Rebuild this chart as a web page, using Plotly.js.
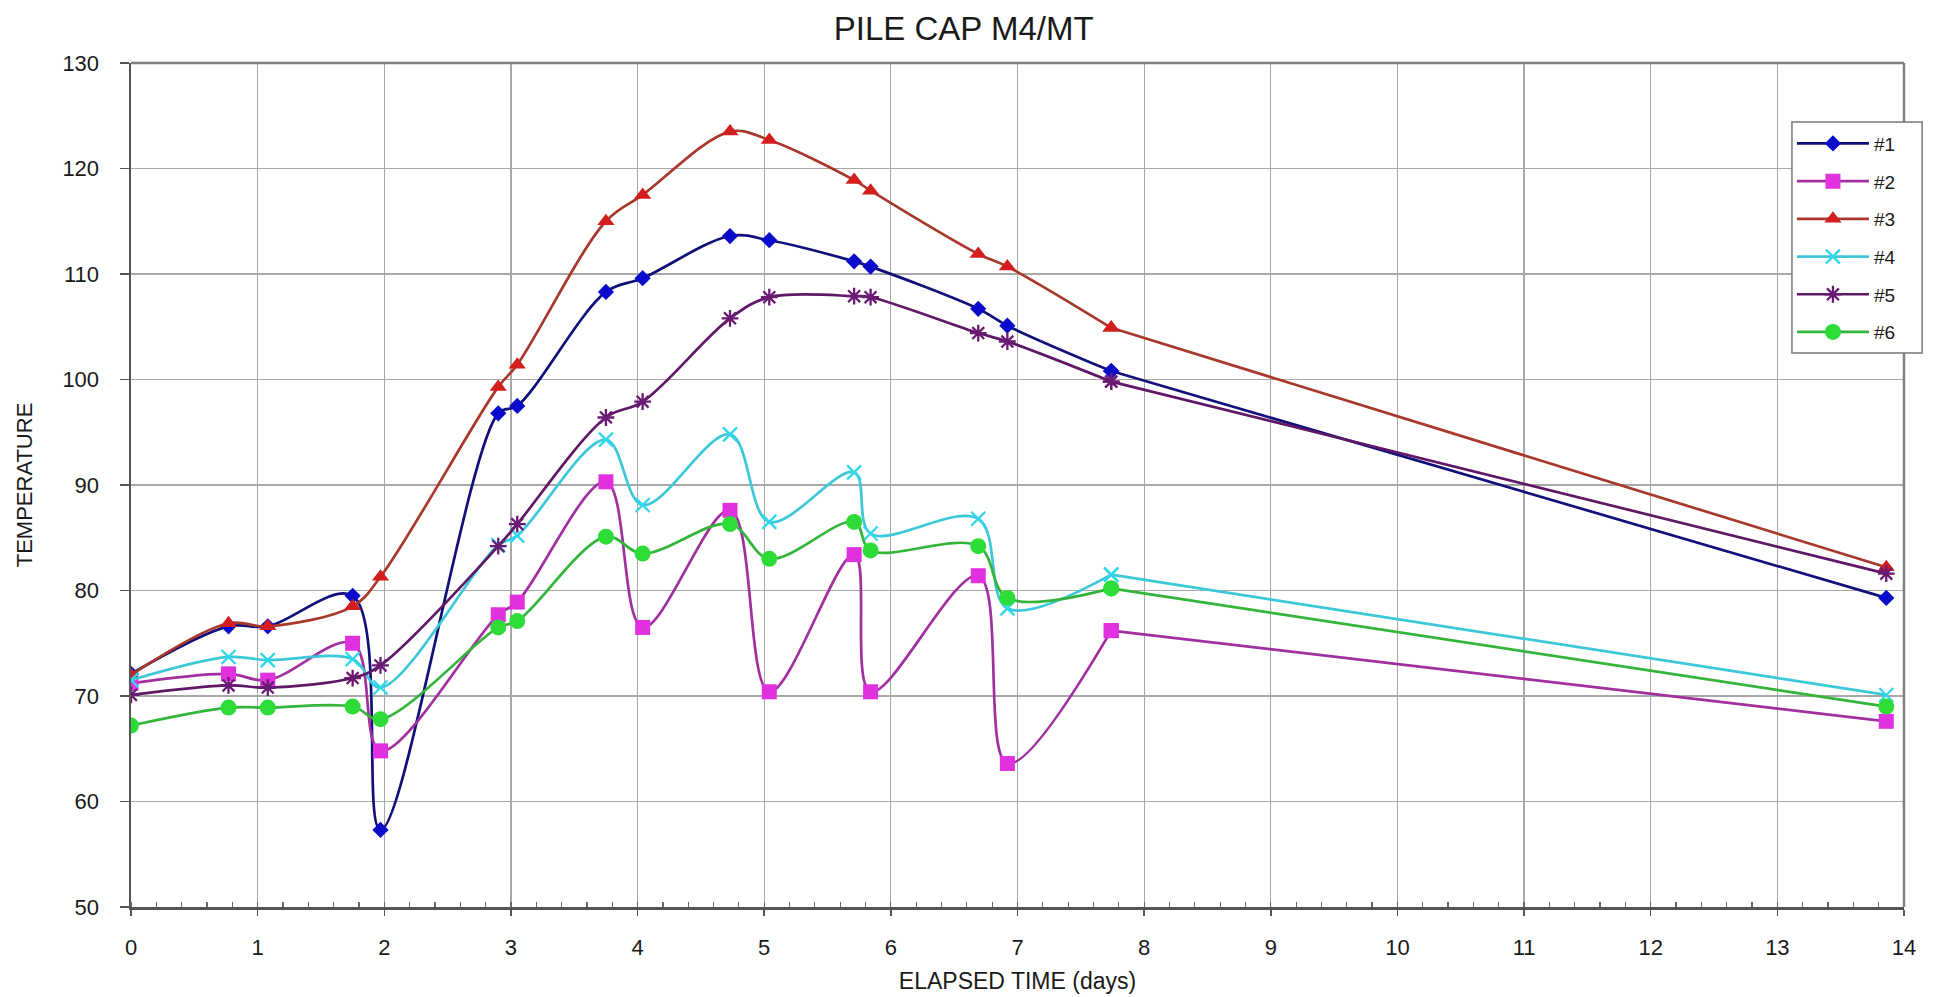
<!DOCTYPE html>
<html>
<head>
<meta charset="utf-8">
<script src="https://cdn.plot.ly/plotly-3.0.1.min.js"></script>
<style>
html,body{margin:0;padding:0;background:#fff;}
#chart{width:1937px;height:997px;}
</style>
</head>
<body>
<div id="chart"></div>
<script>
// Elapsed time (days)
const days = [0, 0.77, 1.08, 1.75, 1.97, 2.90, 3.05, 3.75, 4.04, 4.73, 5.04, 5.71, 5.84, 6.69, 6.92, 7.74, 13.86];
// Temperatures per sensor
const s1 = [72.1, 76.6, 76.6, 79.5, 57.3, 96.8, 97.5, 108.3, 109.6, 113.6, 113.2, 111.2, 110.7, 106.7, 105.1, 100.8, 79.3];
const s2 = [71.2, 72.1, 71.5, 75.0, 64.8, 77.7, 78.9, 90.3, 76.5, 87.6, 70.4, 83.4, 70.4, 81.4, 63.6, 76.2, 67.6];
const s3 = [72.0, 76.9, 76.6, 78.5, 81.3, 99.3, 101.4, 115.0, 117.5, 123.5, 122.7, 118.9, 117.9, 111.9, 110.7, 104.9, 82.2];
const s4 = [71.5, 73.7, 73.4, 73.5, 70.8, 84.3, 85.2, 94.3, 88.1, 94.8, 86.5, 91.2, 85.4, 86.8, 78.3, 81.5, 70.1];
const s5 = [70.1, 71.0, 70.8, 71.7, 72.9, 84.2, 86.3, 96.4, 97.9, 105.8, 107.8, 107.9, 107.8, 104.4, 103.6, 99.8, 81.6];
const s6 = [67.2, 68.9, 68.9, 69.0, 67.8, 76.5, 77.1, 85.1, 83.5, 86.3, 83.0, 86.5, 83.8, 84.2, 79.3, 80.2, 69.0];
const names = ['#1', '#2', '#3', '#4', '#5', '#6'];
const xTicks = [0,1,2,3,4,5,6,7,8,9,10,11,12,13,14];
const yTicks = [50,60,70,80,90,100,110,120,130];

const series = [s1, s2, s3, s4, s5, s6];
const styles = [
  {line:'#10107a', mc:'#0a0acc', sym:'diamond', size:12.5, open:false},
  {line:'#a0309e', mc:'#e030e0', sym:'square', size:15, open:false},
  {line:'#a8382c', mc:'#d41e1e', sym:'triangle-up', size:15, open:false},
  {line:'#3cc8d8', mc:'#30d8ec', sym:'x-thin-open', size:14, open:true},
  {line:'#5e1866', mc:'#6a1a72', sym:'asterisk-open', size:14, open:true},
  {line:'#34b43a', mc:'#2edc38', sym:'circle', size:16, open:false}
];

// the long last interval is drawn straight, the rest smoothed
const nSmooth = days.length - 1;
const traces = [];
series.forEach((ys, i) => {
  const st = styles[i];
  const marker = st.open
      ? {symbol: st.sym, size: st.size, color: st.mc, line: {color: st.mc, width: 2.3}}
      : {symbol: st.sym, size: st.size, color: st.mc, line: {width: 0}};
  traces.push({
    x: days.slice(0, nSmooth), y: ys.slice(0, nSmooth), name: names[i], type: 'scatter', mode: 'lines+markers',
    legendgroup: 'g' + i,
    line: {color: st.line, width: 2.7, shape: 'spline', smoothing: 1},
    marker: marker
  });
  traces.push({
    x: days.slice(nSmooth - 1), y: ys.slice(nSmooth - 1), name: names[i], type: 'scatter', mode: 'lines+markers',
    legendgroup: 'g' + i, showlegend: false,
    line: {color: st.line, width: 2.7, shape: 'linear'},
    marker: marker
  });
});

const layout = {
  width: 1937, height: 997,
  paper_bgcolor: '#ffffff', plot_bgcolor: '#ffffff',
  margin: {l: 131, r: 33, t: 63, b: 90},
  font: {family: '"Liberation Sans", Arial, sans-serif', color: '#1a1a1a'},
  title: {text: 'PILE CAP M4/MT', font: {size: 33, color: '#1a1a1a'},
          x: 0.4975, xref: 'container', xanchor: 'center', y: 0.971, yref: 'container', yanchor: 'middle'},
  showlegend: true,
  legend: {x: 0.9368, y: 0.927, xanchor: 'left', yanchor: 'top', xref: 'paper', yref: 'paper',
           bgcolor: 'rgba(0,0,0,0)', borderwidth: 0,
           font: {size: 19, color: '#1a1a1a'}, tracegroupgap: 10, itemwidth: 72},
  xaxis: {
    range: [0, 14], tickvals: xTicks, ticktext: xTicks.map(String),
    showgrid: true, gridcolor: '#a8a8a8', gridwidth: 1.2,
    showline: true, linecolor: '#555555', linewidth: 2.5, mirror: false,
    ticks: 'outside', ticklen: 6, tickcolor: '#555555', tickwidth: 1.5,
    minor: {dtick: 0.2, ticks: 'inside', ticklen: 5, tickcolor: '#666666', tickwidth: 1.2, showgrid: false},
    tickfont: {size: 22, color: '#1a1a1a'}, ticklabelstandoff: 13,
    zeroline: false,
    title: {text: 'ELAPSED TIME (days)', font: {size: 23, color: '#1a1a1a'}, standoff: 14}
  },
  yaxis: {
    range: [50, 130], tickvals: yTicks, ticktext: yTicks.map(String),
    showgrid: true, gridcolor: '#a8a8a8', gridwidth: 1.2,
    showline: true, linecolor: '#555555', linewidth: 2.5,
    ticks: 'outside', ticklen: 9, tickcolor: '#555555', tickwidth: 1.5,
    tickfont: {size: 22, color: '#1a1a1a'}, ticklabelstandoff: 16,
    zeroline: false,
    title: {text: 'TEMPERATURE', font: {size: 22, color: '#1a1a1a'}, standoff: 24}
  },
  shapes: [
    {type: 'line', xref: 'paper', yref: 'paper', x0: 0, x1: 1, y0: 1, y1: 1, line: {color: '#808080', width: 2.5}},
    {type: 'line', xref: 'paper', yref: 'paper', x0: 1, x1: 1, y0: 0, y1: 1, line: {color: '#808080', width: 2.5}},
    // legend frame
    {type: 'rect', xref: 'paper', yref: 'paper', x0: 0.9368, x1: 1.0102, y0: 0.6564, y1: 0.9301,
     fillcolor: '#ffffff', line: {color: '#777777', width: 1.5}, layer: 'above'}
  ]
};

Plotly.newPlot('chart', traces, layout, {displayModeBar: false, staticPlot: true});
</script>
</body>
</html>
